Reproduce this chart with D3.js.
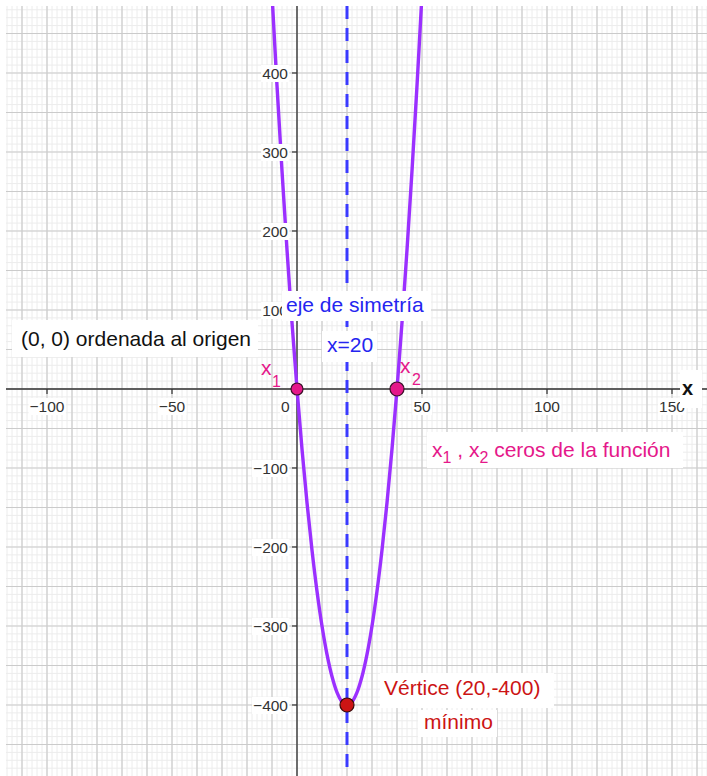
<!DOCTYPE html>
<html>
<head>
<meta charset="utf-8">
<script src="https://cdn.jsdelivr.net/npm/d3@7"></script>
<style>
  body { margin: 0; background: #fff; }
  svg { display: block; font-family: "Liberation Sans", Arial, sans-serif; }
</style>
</head>
<body>
<div id="main-container"></div>
<script>
// Data
const X_TICKS = [-100, -50, 50, 100, 150];
const Y_TICKS = [-400, -300, -200, -100, 100, 200, 300, 400];
// points along the parabola (x, y)
const CURVE_X = [-10, -8, -6, -4, -2, 0, 2, 4, 6, 8, 10, 12, 14, 16, 18, 20, 22, 24, 26, 28, 30, 32, 34, 36, 38, 40, 42, 44, 46, 48, 50];
const CURVE_Y = [500, 384, 276, 176, 84, 0, -76, -144, -204, -256, -300, -336, -364, -384, -396, -400, -396, -384, -364, -336, -300, -256, -204, -144, -76, 0, 84, 176, 276, 384, 500];
const AXIS_OF_SYMMETRY = 20;
const ZEROS = [{ x: 0, y: 0, r: 6 }, { x: 40, y: 0, r: 7 }];
const VERTEX = { x: 20, y: -400 };

const W = 707, H = 776;
const PLOT = { left: 6, top: 6, right: 707, bottom: 776 };
const PINK = '#e5188a', BLUE = '#2525f0', RED = '#cc1414', PURPLE = '#9b30ff';
const LABEL_SIZE = 21, SUB_SIZE = 16, TICK_SIZE = 15.5;

const X = d3.scaleLinear().domain([-116.4, 164]).range([PLOT.left, PLOT.right]);
const Y = d3.scaleLinear().domain([-489.9, 484.8]).range([PLOT.bottom, PLOT.top]);

const SVG = d3.select('#main-container').append('svg')
    .attr('width', W).attr('height', H);

SVG.append('clipPath').attr('id', 'clip')
  .append('rect')
    .attr('x', PLOT.left).attr('y', PLOT.top)
    .attr('width', PLOT.right - PLOT.left).attr('height', PLOT.bottom - PLOT.top);

const G = SVG.append('g').attr('clip-path', 'url(#clip)');

// Grid
const minorX = d3.range(-116, 166, 2), majorX = d3.range(-110, 166, 10);
const minorY = d3.range(-480, 490, 10), majorY = d3.range(-450, 490, 50);
G.append('g').selectAll('line').data(minorX).enter().append('line')
    .attr('x1', d => X(d)).attr('x2', d => X(d)).attr('y1', PLOT.top).attr('y2', PLOT.bottom)
    .attr('stroke', '#ececec').attr('stroke-width', 1);
G.append('g').selectAll('line').data(minorY).enter().append('line')
    .attr('y1', d => Y(d)).attr('y2', d => Y(d)).attr('x1', PLOT.left).attr('x2', PLOT.right)
    .attr('stroke', '#ececec').attr('stroke-width', 1);
G.append('g').selectAll('line').data(majorX).enter().append('line')
    .attr('x1', d => X(d)).attr('x2', d => X(d)).attr('y1', PLOT.top).attr('y2', PLOT.bottom)
    .attr('stroke', '#cbcbcb').attr('stroke-width', 1.2);
G.append('g').selectAll('line').data(majorY).enter().append('line')
    .attr('y1', d => Y(d)).attr('y2', d => Y(d)).attr('x1', PLOT.left).attr('x2', PLOT.right)
    .attr('stroke', '#cbcbcb').attr('stroke-width', 1.2);

// Axes
G.append('line').attr('x1', PLOT.left).attr('x2', PLOT.right)
    .attr('y1', Y(0)).attr('y2', Y(0)).attr('stroke', '#333').attr('stroke-width', 1.6);
G.append('line').attr('x1', X(0)).attr('x2', X(0))
    .attr('y1', PLOT.top).attr('y2', PLOT.bottom).attr('stroke', '#222').attr('stroke-width', 1.2);

// Ticks
G.append('g').selectAll('line').data(X_TICKS).enter().append('line')
    .attr('x1', d => X(d)).attr('x2', d => X(d)).attr('y1', Y(0)).attr('y2', Y(0) + 5)
    .attr('stroke', '#333').attr('stroke-width', 1.2);
G.append('g').selectAll('line').data(Y_TICKS).enter().append('line')
    .attr('x1', X(0) - 5).attr('x2', X(0)).attr('y1', d => Y(d)).attr('y2', d => Y(d))
    .attr('stroke', '#333').attr('stroke-width', 1.2);

const fmt = d => (d < 0 ? '\u2212' : '') + Math.abs(d);

// helper: text with white background box
function boxedText(parent, x, y, str, opts) {
  const g = parent.append('g');
  const rect = g.append('rect').attr('fill', '#fff');
  const t = g.append('text').attr('x', x).attr('y', y)
      .attr('text-anchor', opts.anchor || 'start')
      .style('font-size', opts.size + 'px')
      .style('font-weight', opts.weight || 'normal')
      .attr('fill', opts.color);
  t.text(str);
  const b = t.node().getBBox();
  const p = opts.pad || [1, 0];
  rect.attr('x', b.x - p[0]).attr('y', b.y - p[1])
      .attr('width', b.width + 2 * p[0]).attr('height', b.height + 2 * p[1]);
  return g;
}

const LABELS = SVG.append('g');
X_TICKS.forEach(d => boxedText(LABELS, X(d), Y(0) + 23, fmt(d), { size: TICK_SIZE, color: '#333', anchor: 'middle' }));
Y_TICKS.forEach(d => boxedText(LABELS, X(0) - 9, Y(d) + 6, fmt(d), { size: TICK_SIZE, color: '#333', anchor: 'end' }));
boxedText(LABELS, X(0) - 16, Y(0) + 23, '0', { size: TICK_SIZE, color: '#333', anchor: 'start' });

// Axis of symmetry
G.append('line')
    .attr('x1', X(AXIS_OF_SYMMETRY)).attr('x2', X(AXIS_OF_SYMMETRY))
    .attr('y1', PLOT.top).attr('y2', PLOT.bottom)
    .attr('stroke', '#3a3aff').attr('stroke-width', 3)
    .attr('stroke-dasharray', '13,9');

// Parabola
const curvePts = CURVE_X.map((x, i) => [x, CURVE_Y[i]]);
G.append('path')
    .datum(curvePts)
    .attr('d', d3.line().x(d => X(d[0])).y(d => Y(d[1])).curve(d3.curveCatmullRom))
    .attr('fill', 'none').attr('stroke', PURPLE).attr('stroke-width', 3.4);

// Points
SVG.append('g').selectAll('circle').data(ZEROS).enter().append('circle')
    .attr('cx', d => X(d.x)).attr('cy', d => Y(d.y)).attr('r', d => d.r)
    .attr('fill', PINK).attr('stroke', '#3a1028').attr('stroke-width', 1.2);
SVG.append('circle')
    .attr('cx', X(VERTEX.x)).attr('cy', Y(VERTEX.y)).attr('r', 7)
    .attr('fill', RED).attr('stroke', '#3a0a0a').attr('stroke-width', 1.2);

// Annotation boxes
function box(x, y, w, h) {
  SVG.append('rect').attr('x', x).attr('y', y).attr('width', w).attr('height', h).attr('fill', '#fff');
}
function txt(x, y, str, size, color, weight) {
  return SVG.append('text').attr('x', x).attr('y', y)
      .style('font-size', size + 'px').style('font-weight', weight || 'normal')
      .attr('fill', color).text(str);
}

box(12, 320, 246, 37);
txt(21, 346, '(0, 0) ordenada al origen', LABEL_SIZE, '#111');

box(282, 291, 149, 30);
txt(286, 312, 'eje de simetr\u00eda', LABEL_SIZE, BLUE);

box(322, 331, 55, 31);
txt(327, 352, 'x=20', LABEL_SIZE, BLUE);

// x1, x2 labels
txt(261, 375, 'x', LABEL_SIZE, PINK);
txt(272, 387, '1', SUB_SIZE, PINK);
txt(400, 373, 'x', LABEL_SIZE, PINK);
txt(412, 385, '2', SUB_SIZE, PINK);

// axis name
box(680, 370, 22, 38);
txt(682, 395, 'x', 20, '#111', 'bold');

box(427, 432, 256, 36);
const zt = SVG.append('text').attr('x', 432).attr('y', 457)
    .style('font-size', LABEL_SIZE + 'px').attr('fill', PINK);
zt.append('tspan').text('x');
zt.append('tspan').attr('dy', 6).style('font-size', SUB_SIZE + 'px').text('1');
zt.append('tspan').attr('dy', -6).text(' , x');
zt.append('tspan').attr('dy', 6).style('font-size', SUB_SIZE + 'px').text('2');
zt.append('tspan').attr('dy', -6).text(' ceros de la funci\u00f3n');

box(380, 673, 174, 35);
txt(384, 695, 'V\u00e9rtice (20,-400)', LABEL_SIZE, RED);
box(418, 710, 79, 27);
txt(424, 729, 'm\u00ednimo', LABEL_SIZE, RED);
</script>
</body>
</html>
